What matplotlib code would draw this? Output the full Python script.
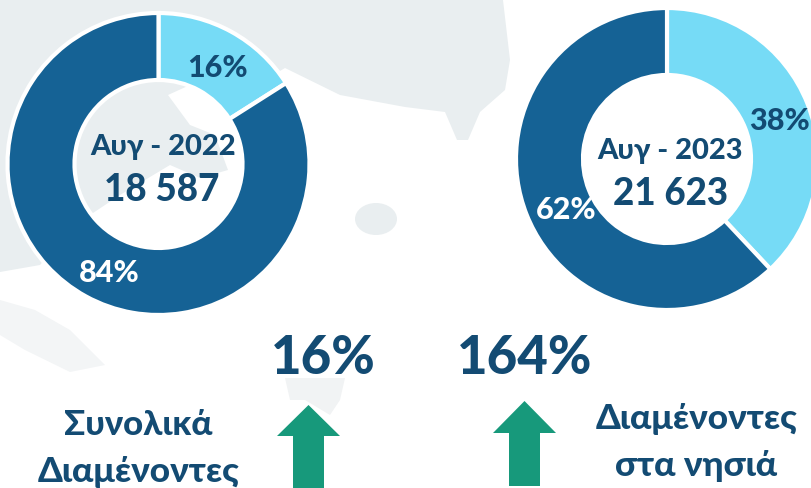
import matplotlib
matplotlib.use('Agg')
import matplotlib.pyplot as plt
from matplotlib.patches import Polygon, Ellipse

plt.rcParams['font.family'] = ['Lato', 'DejaVu Sans']

W, H = 811, 488

# --- Data ---
share_2022 = [16, 84]
share_2023 = [38, 62]
label_2022 = 'Αυγ - 2022'
label_2023 = 'Αυγ - 2023'
total_2022 = '18 587'
total_2023 = '21 623'
growth_total = '16%'
growth_islands = '164%'

LIGHT = '#76DBF6'
DARK = '#156295'
TEXT = '#134B73'
GREEN = '#17997B'
MAP = '#E9EEF0'


def py(y):
    # picture y (from the top) to axes y
    return H - y


def shape(ax, pts, color=MAP):
    ax.add_patch(Polygon([(x, py(y)) for x, y in pts], closed=True, fc=color, ec='none', zorder=1))


def donut(ax, values, cx, cy):
    ax.pie(values, center=(cx, py(cy)), radius=151, startangle=90, counterclock=False,
           colors=[LIGHT, DARK], frame=True,
           wedgeprops=dict(width=67, edgecolor='white', linewidth=3, zorder=3))


def arrow(ax, tip_x, tip_y, base_y, half_head, half_shaft, bottom):
    pts = [(tip_x, tip_y), (tip_x + half_head, base_y), (tip_x + half_shaft, base_y),
           (tip_x + half_shaft, bottom), (tip_x - half_shaft, bottom),
           (tip_x - half_shaft, base_y), (tip_x - half_head, base_y)]
    ax.add_patch(Polygon([(x, py(y)) for x, y in pts], closed=True, fc=GREEN, ec='none', zorder=3))


def label(ax, x, y, s, size, color=TEXT):
    ax.text(x, py(y), s, color=color, fontsize=size, fontweight='black',
            ha='center', va='center', zorder=4)


fig = plt.figure(figsize=(W / 100, H / 100), dpi=100)
ax = fig.add_axes([0, 0, 1, 1])

# --- Faint map behind the charts ---
shape(ax, [(0, 0), (503, 0), (510, 60), (505, 90), (480, 112), (468, 140), (457, 140),
           (445, 112), (405, 107), (340, 95), (285, 68), (240, 95), (190, 85), (168, 95),
           (190, 125), (215, 135), (228, 170), (200, 178), (170, 165), (120, 195), (75, 225),
           (40, 265), (0, 272)])
shape(ax, [(0, 300), (35, 310), (70, 330), (105, 365), (70, 372), (25, 350), (0, 335)], '#F3F5F6')
shape(ax, [(285, 378), (345, 378), (340, 400), (330, 415), (305, 400), (290, 400)], '#F1F3F4')
ax.add_patch(Ellipse((376, py(219)), 42, 32, fc=MAP, ec='none', zorder=1))

# --- Donuts ---
donut(ax, share_2022, 158.5, 164)
donut(ax, share_2023, 667, 159)

label(ax, 217, 68, f'{share_2022[0]}%', 22)
label(ax, 109, 273, f'{share_2022[1]}%', 22, 'white')
label(ax, 779, 121, f'{share_2023[0]}%', 22)
label(ax, 566, 210, f'{share_2023[1]}%', 22, 'white')

label(ax, 163, 147, label_2022, 21)
label(ax, 162, 190, total_2022, 26.5)
label(ax, 670, 151, label_2023, 21)
label(ax, 671, 194, total_2023, 26.5)

# --- Lower part ---
label(ax, 323, 358, growth_total, 38)
label(ax, 525, 358, growth_islands, 38)

arrow(ax, 308.5, 405, 436, 31.5, 15.5, 488)
arrow(ax, 524.5, 401, 433, 31.5, 15.5, 486)

label(ax, 138, 425, 'Συνολικά', 25)
label(ax, 139, 472, 'Διαμένοντες', 25.5)
label(ax, 697, 419, 'Διαμένοντες', 25.5)
label(ax, 696, 466, 'στα νησιά', 25.5)

ax.set_xlim(0, W)
ax.set_ylim(0, H)
ax.set_aspect('auto')
ax.axis('off')

fig.savefig('out.png', dpi=100)
